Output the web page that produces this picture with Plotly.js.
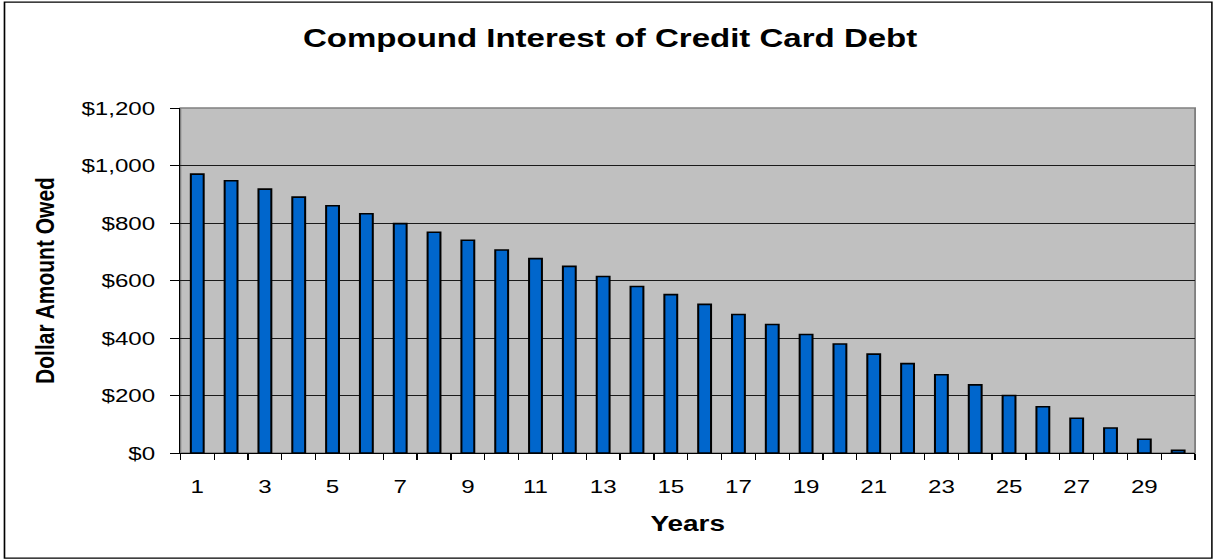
<!DOCTYPE html>
<html>
<head>
<meta charset="utf-8">
<script src="https://cdn.plot.ly/plotly-3.0.1.min.js"></script>
<style>
  html, body { margin: 0; padding: 0; background: #fff; overflow: hidden; }
  #wrap { width: 1213px; height: 560px; overflow: hidden; }
  /* the chart is laid out narrower and widened horizontally */
  #chart { width: 955.1px; height: 560px; transform: scaleX(1.27); transform-origin: 0 0; }
</style>
</head>
<body>
<div id="wrap"><div id="chart"></div></div>
<script>
// Balance still owed at each year
const years = [1, 2, 3, 4, 5, 6, 7, 8, 9, 10, 11, 12, 13, 14, 15,
               16, 17, 18, 19, 20, 21, 22, 23, 24, 25, 26, 27, 28, 29, 30];
const amountOwed = [970, 947, 918, 890, 860, 832, 798, 768, 740, 706,
                    676, 649, 614, 579, 551, 517, 482, 447, 412, 379,
                    344, 311, 272, 237, 200, 161, 121, 87, 48, 9];
const xTickValues = [1, 3, 5, 7, 9, 11, 13, 15, 17, 19, 21, 23, 25, 27, 29];
const xTickLabels = ['1', '3', '5', '7', '9', '11', '13', '15', '17', '19', '21', '23', '25', '27', '29'];
const yTickValues = [0, 200, 400, 600, 800, 1000, 1200];
const yTickLabels = ['$0', '$200', '$400', '$600', '$800', '$1,000', '$1,200'];

const FONT = 'Arial, "Liberation Sans", Helvetica, sans-serif';
const W = 955.1, H = 560;
const M = { l: 141.7, r: 14.2, t: 108, b: 106.5 };
const pw = W - M.l - M.r, ph = H - M.t - M.b;

// category boundaries for the small x ticks
const boundaries = years.map(y => y - 0.5).concat([years[years.length - 1] + 0.5]);

const trace = {
  type: 'bar',
  x: years,
  y: amountOwed,
  marker: { color: '#0066CC', line: { color: '#000000', width: 1.6 } },
  hoverinfo: 'skip'
};

const layout = {
  width: W,
  height: H,
  margin: M,
  paper_bgcolor: '#FFFFFF',
  plot_bgcolor: '#C0C0C0',
  bargap: 0.62,
  showlegend: false,
  font: { family: FONT, color: '#000000' },
  title: {
    text: '<b>Compound Interest of Credit Card Debt</b>',
    font: { family: FONT, size: 26, color: '#000000' },
    xref: 'container', x: 0.503, xanchor: 'center',
    yref: 'container', y: 1 - 38 / H, yanchor: 'middle'
  },
  xaxis: {
    type: 'linear',
    range: [0.5, 30.5],
    tickmode: 'array',
    tickvals: xTickValues,
    ticktext: xTickLabels,
    ticks: 'outside',
    ticklen: 6,
    tickcolor: 'rgba(0,0,0,0)',
    ticklabelstandoff: 10,
    tickfont: { family: FONT, size: 19, color: '#000000' },
    minor: { tickmode: 'array', tickvals: boundaries, ticks: 'outside', ticklen: 6, tickwidth: 1, tickcolor: '#000000', showgrid: false },
    showgrid: false,
    zeroline: false,
    showline: true, linecolor: '#000000', linewidth: 1,
    fixedrange: true,
    title: { text: '<b>Years</b>', font: { family: FONT, size: 22, color: '#000000' }, standoff: 19 }
  },
  yaxis: {
    range: [0, 1200],
    tickmode: 'array',
    tickvals: yTickValues,
    ticktext: yTickLabels,
    ticks: 'outside',
    ticklen: 7,
    tickwidth: 1,
    tickcolor: '#000000',
    ticklabelstandoff: 8,
    tickfont: { family: FONT, size: 19, color: '#000000' },
    showgrid: true, gridcolor: '#1a1a1a', gridwidth: 1,
    zeroline: false,
    showline: true, linecolor: '#000000', linewidth: 1,
    fixedrange: true,
    title: { text: '<b>Dollar Amount Owed</b>', font: { family: FONT, size: 21, color: '#000000' }, standoff: 15 }
  },
  shapes: [
    // plot-area frame (top and right edges show in grey)
    { type: 'rect', xref: 'paper', yref: 'paper', x0: 0, x1: 1, y0: 0, y1: 1,
      line: { color: '#808080', width: 1.5 }, fillcolor: 'rgba(0,0,0,0)', layer: 'below' },
    // chart frame
    { type: 'rect', xref: 'paper', yref: 'paper',
      x0: (3.2 - M.l) / pw, x1: (954.2 - M.l) / pw,
      y0: (ph - (H - 1.2 - M.t)) / ph, y1: (ph - (2 - M.t)) / ph,
      line: { color: '#000000', width: 1.3 }, fillcolor: 'rgba(0,0,0,0)', layer: 'above' }
  ]
};

Plotly.newPlot('chart', [trace], layout, { displayModeBar: false, staticPlot: true });
</script>
</body>
</html>
